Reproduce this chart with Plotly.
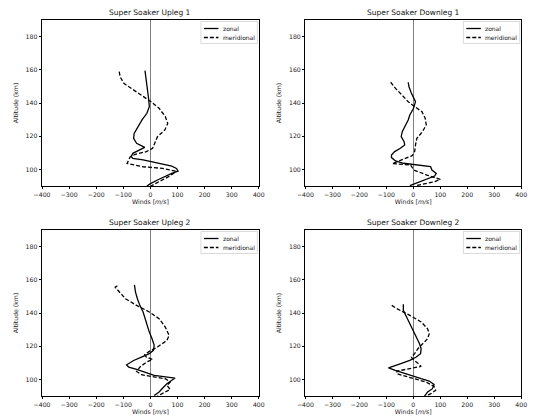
import plotly.graph_objects as go

# ---------------- data ----------------
titles = ["Super Soaker Upleg 1", "Super Soaker Downleg 1",
          "Super Soaker Upleg 2", "Super Soaker Downleg 2"]
series_names = ["zonal", "meridional"]

up1_zonal_alt = [159.5, 153.8, 147.8, 141.8, 137.8, 133.8, 129.8, 125.7, 121.7, 118.7,
                 115.7, 113.3, 111.7, 109.7, 107.7, 106.7, 105.7, 103.6, 102.0, 100.6,
                 99.0, 97.6, 95.6, 93.6, 91.6, 90.0]
up1_zonal_u = [-20, -15, -12, -6, -4, -13, -31, -47, -60, -62,
               -51, -21, -39, -65, -71, -65, -27, 32, 79, 96,
               102, 79, 49, 26, 2, -13]
up1_merid_alt = [158.9, 155.9, 151.8, 147.8, 143.8, 140.8, 136.8, 131.8, 127.7, 123.7,
                 119.7, 115.7, 112.7, 110.7, 109.1, 107.7, 103.6, 101.6, 100.6, 99.0,
                 97.6, 95.6, 93.6, 91.6, 90.0]
up1_merid_v = [-115, -112, -98, -62, -27, 2, 32, 55, 64, 53,
               26, 14, 8, -15, -56, -74, -86, -27, 44, 93,
               85, 67, 46, 20, 2]

dn1_zonal_alt = [152.5, 149.8, 145.8, 140.8, 136.8, 132.8, 129.8, 125.8, 122.7, 119.7,
                 116.7, 114.7, 112.7, 110.7, 108.7, 107.1, 105.1, 103.7, 102.7, 101.7,
                 99.6, 97.6, 96.0, 93.6, 91.6, 90.2]
dn1_zonal_u = [-19, -16, -7, 8, 1, -13, -19, -31, -41, -45,
               -34, -32, -48, -69, -81, -81, -66, -36, 22, 64,
               69, 85, 79, 40, 11, -13]
dn1_merid_alt = [152.5, 148.8, 144.8, 140.8, 137.8, 134.8, 130.8, 126.8, 122.7, 118.7,
                 114.7, 110.7, 108.3, 106.3, 104.7, 103.5, 102.7, 99.6, 96.6, 94.0,
                 92.6, 90.2]
dn1_merid_v = [-84, -66, -42, -19, 5, 32, 44, 48, 34, 13,
               8, 5, -4, -36, -66, -78, -10, 2, 50, 100,
               80, 10]

up2_zonal_alt = [157.0, 152.6, 148.6, 144.6, 140.6, 136.6, 132.5, 128.5, 124.5, 120.5,
                 117.5, 115.5, 113.4, 111.4, 108.8, 107.4, 106.0, 104.0, 102.4, 100.8,
                 99.4, 97.4, 95.4, 92.4, 90.3]
up2_zonal_u = [-59, -55, -48, -39, -27, -19, -13, -4, 6, 14,
               11, -4, -33, -62, -88, -80, -51, -15, 14, 91,
               79, 61, 49, 32, 14]
up2_merid_alt = [156.4, 155.6, 154.4, 152.6, 148.6, 144.6, 140.6, 136.6, 131.5, 126.5,
                 123.5, 119.5, 116.9, 114.9, 113.4, 112.0, 110.4, 107.4, 104.8, 102.8,
                 101.4, 100.4, 98.4, 96.4, 94.0, 91.3, 89.9]
up2_merid_v = [-122, -130, -124, -115, -92, -51, -4, 32, 55, 69,
               61, 26, -4, -21, -15, 8, -15, -39, -51, -33,
               26, 55, 73, 61, 73, 44, 26]

dn2_zonal_alt = [145.2, 141.6, 137.6, 133.6, 129.5, 125.5, 121.5, 118.5, 115.5, 113.5,
                 111.5, 109.4, 107.0, 105.4, 103.4, 100.4, 99.0, 97.0, 94.4, 92.4,
                 89.8]
dn2_zonal_u = [-37, -37, -25, -13, -1, 11, 23, 29, 27, 11,
               -13, -49, -92, -67, -31, 29, 59, 77, 71, 53,
               41]
dn2_merid_alt = [144.6, 142.6, 138.6, 134.6, 130.5, 127.5, 124.5, 121.5, 118.5, 115.5,
                 113.5, 111.9, 109.8, 107.8, 106.4, 105.0, 103.4, 101.0, 98.4, 95.8,
                 93.4, 91.4, 89.8]
dn2_merid_v = [-80, -61, -13, 29, 53, 59, 53, 35, 17, 5,
               -7, -1, 17, 29, -13, -61, -61, -13, 47, 77,
               83, 65, 47]

panels = [
    (up1_zonal_u, up1_zonal_alt, up1_merid_v, up1_merid_alt),
    (dn1_zonal_u, dn1_zonal_alt, dn1_merid_v, dn1_merid_alt),
    (up2_zonal_u, up2_zonal_alt, up2_merid_v, up2_merid_alt),
    (dn2_zonal_u, dn2_zonal_alt, dn2_merid_v, dn2_merid_alt),
]

x_range = [-400, 400]
x_ticks = [-400, -300, -200, -100, 0, 100, 200, 300, 400]
y_range = [90, 190]
y_ticks = [100, 120, 140, 160, 180]

# ---------------- layout geometry ----------------
W, H = 534, 416
xdoms = [[34 / W, 257 / W], [305 / W, 527 / W]]
ydoms = [[1 - 186 / H, 1 - 20 / H], [1 - 396 / H, 1 - 230 / H]]
FONT = "DejaVu Sans"
TICK = 6.2
LW = 1.3
DASH = "4px,2px"

fig = go.Figure()
layout = dict(
    width=W, height=H,
    margin=dict(l=0, r=0, t=0, b=0),
    paper_bgcolor="white", plot_bgcolor="white",
    font=dict(family=FONT, color="black", size=TICK),
    annotations=[], shapes=[], showlegend=False,
)

for i, (zu, za, mv, ma) in enumerate(panels):
    r, c = divmod(i, 2)
    n = "" if i == 0 else str(i + 1)
    xa, ya = "x" + n, "y" + n
    fig.add_trace(go.Scatter(x=zu, y=za, mode="lines", name=series_names[0],
                             line=dict(color="black", width=LW),
                             xaxis=xa, yaxis=ya))
    fig.add_trace(go.Scatter(x=mv, y=ma, mode="lines", name=series_names[1],
                             line=dict(color="black", width=LW, dash=DASH),
                             xaxis=xa, yaxis=ya))
    axstyle = dict(showline=True, linecolor="black", linewidth=0.8, mirror=True,
                   ticks="outside", ticklen=2.5, tickwidth=0.8, tickcolor="black",
                   showgrid=False, tickfont=dict(size=TICK, family=FONT, color="#222"))
    layout["xaxis" + n] = dict(
        domain=xdoms[c], anchor=ya, range=x_range, tickmode="array",
        tickvals=x_ticks, zeroline=True, zerolinecolor="#808080", zerolinewidth=0.8,
        title=dict(text="Winds [<i>m/s</i>]", font=dict(size=TICK, family=FONT, color="#222"),
                   standoff=2),
        **axstyle)
    layout["yaxis" + n] = dict(
        domain=ydoms[r], anchor=xa, range=y_range, tickmode="array",
        tickvals=y_ticks, zeroline=False,
        title=dict(text="Altitude (km)", font=dict(size=TICK, family=FONT, color="#222"),
                   standoff=6),
        **axstyle)

    # title
    layout["annotations"].append(dict(
        text=titles[i], x=(xdoms[c][0] + xdoms[c][1]) / 2,
        y=ydoms[r][1] + 8 / H, xref="paper", yref="paper",
        xanchor="center", yanchor="middle", showarrow=False,
        font=dict(size=7.5, family=FONT, color="#111")))

    # legend box (matplotlib-style, upper right)
    right_px = xdoms[c][1] * W - 1.5
    top_px = (1 - ydoms[r][1]) * H + 1.5
    box_w, box_h = 58, 22
    left_px = right_px - box_w
    def px(xp): return xp / W
    def py(yp): return 1 - yp / H
    layout["shapes"].append(dict(
        type="rect", xref="paper", yref="paper",
        x0=px(left_px), x1=px(right_px), y0=py(top_px + box_h), y1=py(top_px),
        line=dict(color="#d0d0d0", width=0.8), fillcolor="white", layer="above"))
    for k, name in enumerate(series_names):
        yrow = top_px + 7 + k * 9
        layout["shapes"].append(dict(
            type="line", xref="paper", yref="paper",
            x0=px(left_px + 3), x1=px(left_px + 18), y0=py(yrow), y1=py(yrow),
            line=dict(color="black", width=LW, dash=None if k == 0 else DASH),
            layer="above"))
        layout["annotations"].append(dict(
            text=name, x=px(left_px + 20.5), y=py(yrow), xref="paper", yref="paper",
            xanchor="left", yanchor="middle", showarrow=False,
            font=dict(size=6, family=FONT, color="#111")))

fig.update_layout(**layout)
fig.write_html("out.html")
